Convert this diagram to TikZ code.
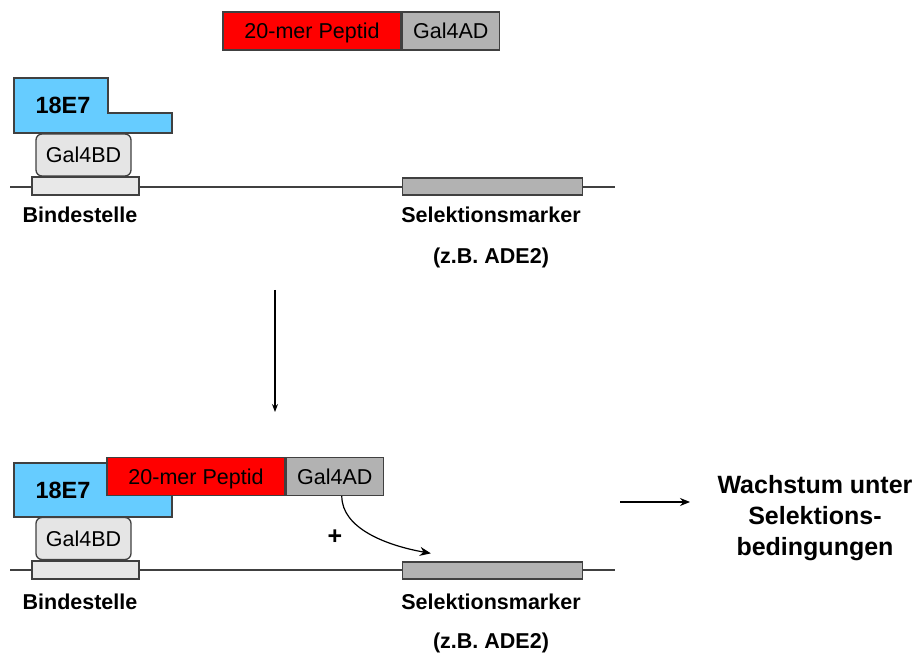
\documentclass[tikz,border=0pt]{standalone}
\usepackage{fontspec}
\setmainfont{Liberation Sans}
\usetikzlibrary{arrows.meta}

\newcommand{\txtsize}{\fontsize{21.5}{25}\selectfont}
\newcommand{\bigsize}{\fontsize{25}{31}\selectfont}

\tikzset{
  box/.style={draw=black!75, line width=1.3pt, inner sep=0pt, font=\txtsize, text height=15.5pt, text depth=0pt},
  site/.style={box, fill=black!9, minimum width=107pt, minimum height=18pt},
  marker/.style={box, fill=black!30, minimum width=180pt, minimum height=17pt},
  bd/.style={box, fill=black!10, rounded corners=6pt, minimum width=95pt, minimum height=42pt},
  pep/.style={box, fill=red, minimum width=178pt, minimum height=38pt},
  ad/.style={box, fill=black!30, minimum width=97pt, minimum height=38pt},
  lab/.style={font=\txtsize\bfseries},
  dna/.style={draw=black!75, line width=1.3pt}
}

\begin{document}
\begin{tikzpicture}[x=1pt,y=-1pt]
    \useasboundingbox (0,0) rectangle (919,655);

    % oben
    \node[pep] (pep1) at (312,31) {20-mer Peptid};
    \node[ad, anchor=west] (ad1) at (pep1.east) {Gal4AD};

    \draw[dna] (10,187) -- (615,187);
    \node[site] (site1) at (85.5,186) {};
    \node[marker] (mark1) at (492.5,186.5) {};
    \node[bd] (bd1) at (83.5,155) {Gal4BD};
    \filldraw[fill={rgb,255:red,102;green,204;blue,255}, draw=black!75, line width=1.3pt]
      (14,78) -- (108,78) -- (108,113) -- (172,113) -- (172,133) -- (14,133) -- cycle;
    \node[font=\fontsize{23.5}{28}\selectfont\bfseries] (e1) at (63,105) {18E7};

    \node[lab] (lsite1) at (80,215) {Bindestelle};
    \node[lab] (lmark1) at (491,215) {Selektionsmarker};
    \node[lab] (lade1) at (491,258) {(z.B. ADE2)};

    \coordinate (a1) at (275,290);
    \coordinate (a2) at (275,412);
    \draw[line width=1.2pt, -{Stealth[length=8pt,width=6pt]}] (a1) -- (a2);

    % unten
    \draw[dna] (10,570) -- (615,570);
    \node[site] (site2) at (85.5,570) {};
    \node[marker] (mark2) at (492.5,570.5) {};
    \node[bd] (bd2) at (83.5,538.5) {Gal4BD};
    \filldraw[fill={rgb,255:red,102;green,204;blue,255}, draw=black!75, line width=1.3pt]
      (14,463) rectangle (172,517);
    \node[font=\fontsize{23.5}{28}\selectfont\bfseries] (e2) at (63,490) {18E7};
    \node[pep] (pep2) at (196,476.5) {20-mer Peptid};
    \node[ad, anchor=west] (ad2) at (pep2.east) {Gal4AD};

    \node[font=\bigsize\bfseries] (plus) at (335,537) {+};
    \draw[line width=1.2pt, -{Stealth[length=11pt,width=9pt]}]
      ([xshift=7pt]ad2.south) .. controls +(0,32) and +(-45,-8) .. ([xshift=29pt,yshift=8pt]mark2.north west);

    \node[lab] (lsite2) at (80,602) {Bindestelle};
    \node[lab] (lmark2) at (491,602) {Selektionsmarker};
    \node[lab] (lade2) at (491,643) {(z.B. ADE2)};

    \node[font=\bigsize\bfseries, align=center] (wachs) at (815,518)
      {Wachstum unter\\Selektions-\\bedingungen};
    \coordinate (r1) at (620,502);
    \draw[line width=1.2pt, -{Stealth[length=10pt,width=8pt]}] (r1) -- ++(70,0);
\end{tikzpicture}
\end{document}
